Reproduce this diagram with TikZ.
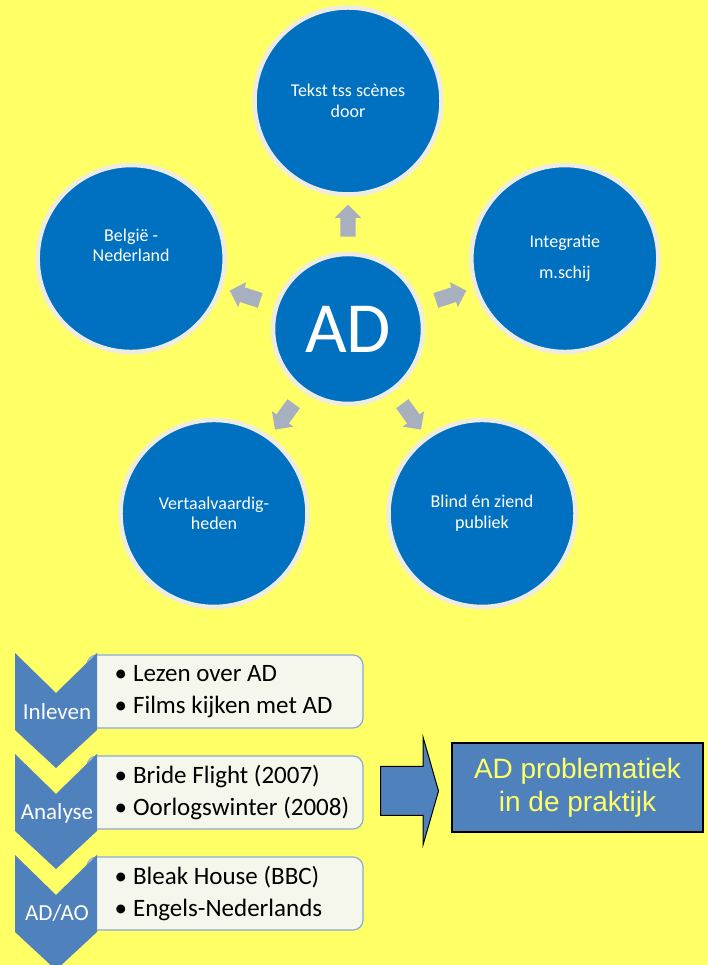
\documentclass[tikz,border=0pt]{standalone}
\usepackage{fontspec}
\setmainfont{Carlito}
\newfontfamily\arialfont{Liberation Sans}
\usetikzlibrary{positioning, shapes.arrows}
\definecolor{bgyellow}{RGB}{255,255,102}
\definecolor{circblue}{RGB}{0,112,192}
\definecolor{ringgray}{RGB}{238,236,225}
\definecolor{spokegray}{RGB}{168,176,192}
\definecolor{stepblue}{RGB}{79,129,189}
\definecolor{boxcream}{RGB}{246,247,236}
\definecolor{boxedge}{RGB}{140,170,210}
\tikzset{x=1pt, y=1pt}

\begin{document}
\begin{tikzpicture}[hub/.style={circle, draw=ringgray, line width=4.5pt, fill=circblue, minimum size=150pt, inner sep=0pt, text=white, font=\fontsize{72}{84}\selectfont},
topic/.style={circle, draw=ringgray, line width=4.5pt, fill=circblue, minimum size=187pt, inner sep=0pt},
topictext/.style={text=white, align=center, font=\fontsize{18}{20.5}\selectfont},
spoke/.style={single arrow, fill=spokegray, minimum height=32pt, single arrow head extend=5.5pt, inner xsep=0pt, inner ysep=7.5pt},
chevron/.style={fill=stepblue},
stepname/.style={text=white, font=\fontsize{23}{27}\selectfont},
listbox/.style={rectangle, rounded corners=10pt, draw=boxedge, line width=1.2pt, fill=boxcream, minimum width=276pt, minimum height=73pt},
listtext/.style={align=left, font=\fontsize{25}{32}\selectfont, inner sep=0pt},
bigarrow/.style={single arrow, draw=black, line width=1pt, fill=stepblue, minimum height=58pt, single arrow head extend=29pt, single arrow tip angle=148, inner xsep=0pt, inner ysep=24pt},
result/.style={rectangle, draw=black, line width=1.2pt, fill=stepblue, minimum width=251pt, minimum height=89pt, text=bgyellow, align=center, font=\arialfont\fontsize{28}{33}\selectfont}]
    \useasboundingbox (0,0) rectangle (708,965);
    \fill[bgyellow] (0,0) rectangle (708,965);
    \clip (0,0) rectangle (708,965);

    % radial part
    \node[hub] (ad) at (348,636) {AD};
    \foreach \ang/\name/\txt/\dy in {90/tekst/{Tekst tss scènes\\door}/0, 162/belgie/{België -\\Nederland}/13, 18/integratie/{Integratie\\[10pt]m.schij}/0, 234/vertaal/{Vertaalvaardig-\\heden}/0, 306/blind/{Blind én ziend\\publiek}/0}
    {
    \node[topic] (\name) at ([shift={(\ang:228)}]ad.center) {};
    \node[topictext, yshift=\dy pt] (\name-text) at (\name) {\txt};
    \node[spoke, rotate=\ang] (\name-arrow) at ([shift={(\ang:104.5)}]ad.center) {};
    }

    % steps
    \node[listbox] (inleven-box) at (225,273.5) {};
    \node[listbox] (analyse-box) at (225,172.5) {};
    \node[listbox] (adao-box) at (225,71.5) {};
    \node[listtext, right=28pt of inleven-box.west] (inleven-list) {\textbullet\hspace{6pt}Lezen over AD\\\textbullet\hspace{6pt}Films kijken met AD};
    \node[listtext, right=28pt of analyse-box.west] (analyse-list) {\textbullet\hspace{6pt}Bride Flight (2007)\\\textbullet\hspace{6pt}Oorlogswinter (2008)};
    \node[listtext, right=28pt of adao-box.west] (adao-list) {\textbullet\hspace{6pt}Bleak House (BBC)\\\textbullet\hspace{6pt}Engels-Nederlands};

    \foreach \t in {312,211,110}
    \fill[chevron] (15,\t) -- (56,\t-40) -- (97,\t) -- (97,\t-77) -- (56,\t-115) -- (15,\t-77) -- cycle;

    \node[stepname] (inleven) at (57,253) {Inleven};
    \node[stepname] (analyse) at (57,152) {Analyse};
    \node[stepname] (adao) at (57,52) {AD/AO};

    % result
    \node[bigarrow] (toresult) at (406,174) {};
    \node[result] (praktijk) at (577.5,177.5) {AD problematiek\\in de praktijk};
\end{tikzpicture}
\end{document}
